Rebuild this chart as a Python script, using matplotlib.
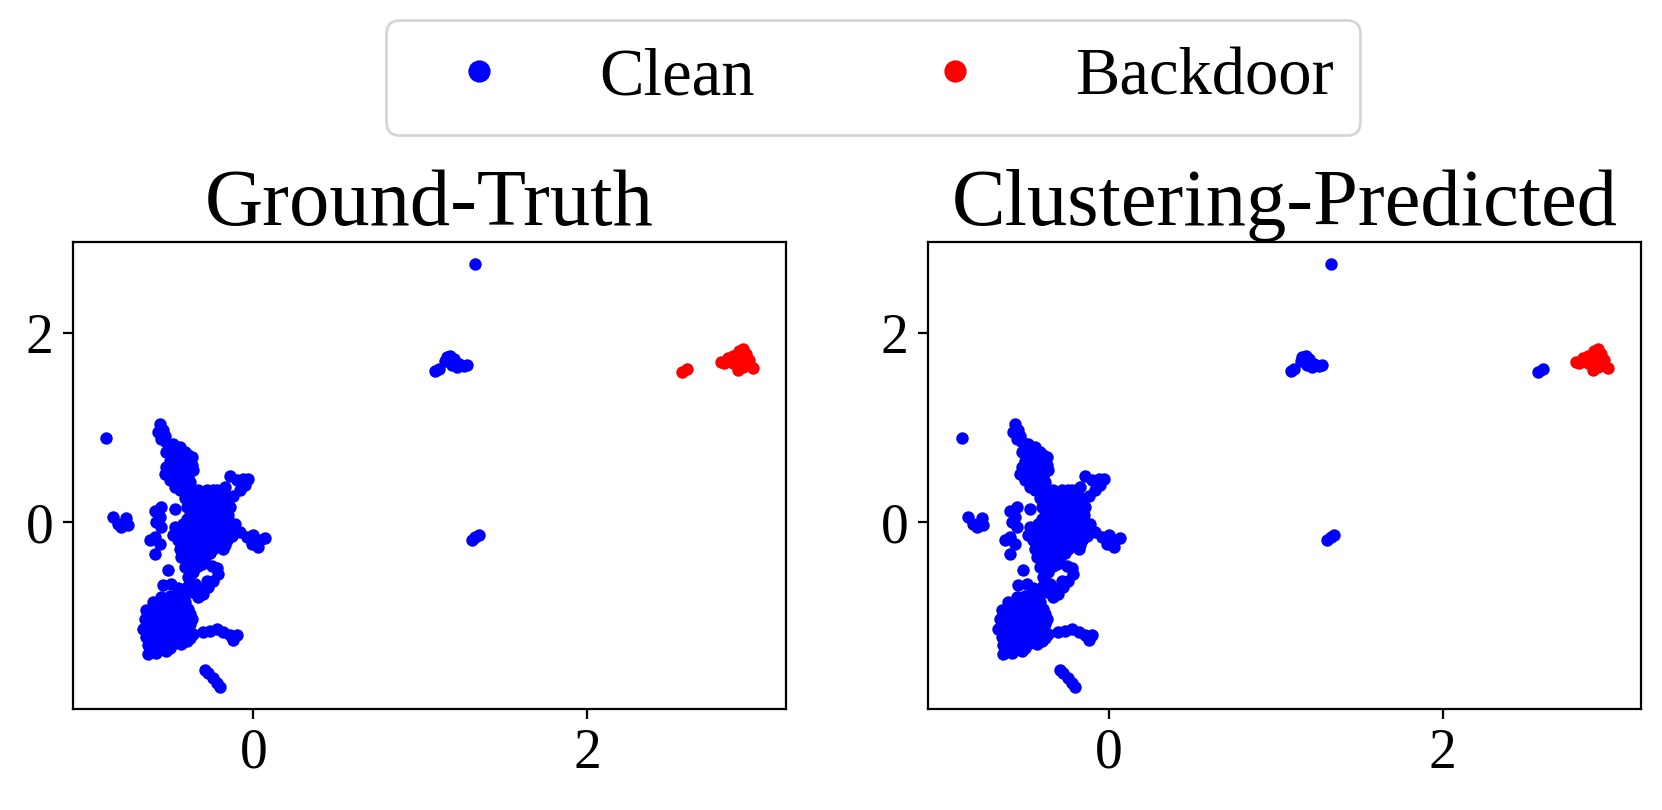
import matplotlib
matplotlib.use("Agg")
import matplotlib.pyplot as plt
from matplotlib.lines import Line2D

plt.rcParams['font.family'] = ['Liberation Serif', 'DejaVu Serif']

# main clean mass (x, y)
blob_points = [
    # upper arm
    (-0.56, 1.04), (-0.57, 0.95), (-0.55, 0.88), (-0.52, 0.85), (-0.50, 0.79),
    (-0.46, 0.76), (-0.41, 0.74), (-0.37, 0.69), (-0.37, 0.60), (-0.36, 0.55),
    (-0.39, 0.48), (-0.42, 0.55), (-0.46, 0.62), (-0.50, 0.65), (-0.52, 0.58),
    (-0.53, 0.51), (-0.50, 0.44), (-0.47, 0.37), (-0.44, 0.34), (-0.41, 0.41),
    (-0.38, 0.42), (-0.46, 0.51), (-0.43, 0.44), (-0.48, 0.71), (-0.52, 0.74),
    (-0.41, 0.65),
    (-0.54, 0.97), (-0.53, 0.91), (-0.48, 0.82), (-0.44, 0.79), (-0.39, 0.71),
    (-0.44, 0.69), (-0.48, 0.60), (-0.43, 0.60), (-0.39, 0.57), (-0.49, 0.55),
    (-0.45, 0.48), (-0.41, 0.49), (-0.40, 0.36),
    # centre
    (-0.38, 0.34), (-0.33, 0.34), (-0.28, 0.34), (-0.24, 0.34),
    (-0.40, 0.30), (-0.35, 0.30), (-0.30, 0.30), (-0.25, 0.30), (-0.20, 0.30),
    (-0.41, 0.25), (-0.36, 0.25), (-0.31, 0.25), (-0.26, 0.25), (-0.21, 0.25), (-0.17, 0.25),
    (-0.38, 0.21), (-0.33, 0.21), (-0.28, 0.21), (-0.23, 0.21), (-0.18, 0.21),
    (-0.40, 0.16), (-0.35, 0.16), (-0.30, 0.16), (-0.25, 0.16), (-0.20, 0.16), (-0.16, 0.16),
    (-0.37, 0.12), (-0.32, 0.12), (-0.27, 0.12), (-0.22, 0.12), (-0.17, 0.12),
    (-0.38, 0.07), (-0.34, 0.07), (-0.29, 0.07), (-0.24, 0.07), (-0.19, 0.07), (-0.15, 0.07),
    (-0.40, 0.03), (-0.35, 0.03), (-0.31, 0.03), (-0.26, 0.03), (-0.21, 0.03), (-0.16, 0.03),
    (-0.42, -0.02), (-0.37, -0.02), (-0.32, -0.02), (-0.27, -0.02), (-0.22, -0.02),
    (-0.17, -0.02), (-0.13, -0.02),
    (-0.44, -0.06), (-0.39, -0.06), (-0.34, -0.06), (-0.29, -0.06), (-0.24, -0.06),
    (-0.19, -0.06), (-0.14, -0.06),
    (-0.44, -0.11), (-0.39, -0.11), (-0.34, -0.11), (-0.29, -0.11), (-0.24, -0.11),
    (-0.19, -0.11), (-0.15, -0.11), (-0.11, -0.11),
    (-0.42, -0.15), (-0.37, -0.15), (-0.32, -0.15), (-0.27, -0.15), (-0.22, -0.15),
    (-0.17, -0.15), (-0.13, -0.15),
    (-0.45, -0.19), (-0.40, -0.19), (-0.35, -0.19), (-0.30, -0.19), (-0.25, -0.19),
    (-0.20, -0.19), (-0.16, -0.19),
    (-0.42, -0.24), (-0.37, -0.24), (-0.32, -0.24), (-0.27, -0.24), (-0.22, -0.24), (-0.17, -0.24),
    (-0.44, -0.28), (-0.39, -0.28), (-0.34, -0.28), (-0.29, -0.28), (-0.24, -0.28), (-0.18, -0.28),
    (-0.41, -0.33), (-0.36, -0.33), (-0.31, -0.33), (-0.26, -0.33),
    (-0.43, -0.37), (-0.38, -0.37), (-0.33, -0.37), (-0.29, -0.37),
    (-0.36, -0.44), (-0.31, -0.44),
    # right arm
    (-0.22, 0.34), (-0.17, 0.37), (-0.14, 0.49), (-0.10, 0.44), (-0.06, 0.46),
    (-0.03, 0.46), (-0.05, 0.39), (-0.08, 0.34), (-0.12, 0.28), (-0.16, 0.23),
    (-0.14, 0.16), (-0.19, 0.32),
    # right spur
    (-0.11, -0.02), (-0.08, -0.11), (-0.04, -0.16), (0.00, -0.14), (0.04, -0.19),
    (0.07, -0.17), (0.03, -0.26), (-0.01, -0.23),
    # left lobes
    (-0.59, 0.12), (-0.55, 0.16), (-0.58, 0.00), (-0.55, -0.05), (-0.56, 0.05),
    (-0.47, 0.14), (-0.47, -0.05), (-0.48, -0.14),
    (-0.62, -0.19), (-0.59, -0.16), (-0.56, -0.23), (-0.59, -0.34),
    # stem
    (-0.41, -0.48), (-0.39, -0.58), (-0.40, -0.69), (-0.42, -0.79), (-0.36, -0.53),
    (-0.35, -0.65), (-0.38, -0.52), (-0.38, -0.63), (-0.37, -0.74), (-0.33, -0.47),
    (-0.25, -0.46), (-0.22, -0.49), (-0.21, -0.55), (-0.24, -0.62), (-0.27, -0.69),
    (-0.30, -0.76), (-0.33, -0.79), (-0.28, -0.62), (-0.31, -0.71),
    # lower mass
    (-0.54, -0.67), (-0.49, -0.65), (-0.45, -0.70),
    (-0.60, -0.85), (-0.55, -0.79), (-0.50, -0.78), (-0.45, -0.79), (-0.41, -0.85),
    (-0.57, -0.88), (-0.52, -0.86), (-0.47, -0.85),
    (-0.39, -0.92), (-0.64, -0.93), (-0.59, -0.93), (-0.54, -0.92), (-0.49, -0.90),
    (-0.44, -0.93), (-0.38, -0.97),
    (-0.62, -0.98), (-0.57, -0.97), (-0.52, -0.97), (-0.47, -0.97),
    (-0.42, -1.02), (-0.65, -1.02), (-0.60, -1.02), (-0.55, -1.02),
    (-0.50, -1.02), (-0.46, -1.04), (-0.37, -1.02),
    (-0.63, -1.08), (-0.58, -1.08), (-0.53, -1.08), (-0.48, -1.08), (-0.43, -1.08), (-0.38, -1.08),
    (-0.66, -1.13), (-0.61, -1.13), (-0.56, -1.13), (-0.51, -1.13), (-0.46, -1.13), (-0.41, -1.13),
    (-0.62, -1.18), (-0.57, -1.18), (-0.52, -1.18), (-0.47, -1.18), (-0.41, -1.18), (-0.36, -1.18),
    (-0.64, -1.22), (-0.59, -1.22), (-0.54, -1.22), (-0.49, -1.22), (-0.44, -1.22), (-0.38, -1.23),
    (-0.61, -1.26), (-0.56, -1.26), (-0.51, -1.26), (-0.46, -1.26), (-0.40, -1.26),
    (-0.63, -1.30), (-0.58, -1.32), (-0.53, -1.30), (-0.48, -1.29), (-0.43, -1.29),
    (-0.60, -1.35), (-0.55, -1.34), (-0.50, -1.33),
    (-0.63, -1.39), (-0.58, -1.38), (-0.52, -1.36),
]

# smaller clean groups away from the main mass
outlier_points = [
    (-0.88, 0.89),
    (-0.84, 0.05), (-0.81, -0.02), (-0.79, -0.05), (-0.76, 0.04), (-0.75, -0.03),
    (-0.51, -0.51),
    (-0.30, -1.16), (-0.26, -1.15), (-0.22, -1.13), (-0.18, -1.16), (-0.14, -1.19),
    (-0.10, -1.19), (-0.12, -1.25),
    (-0.29, -1.56), (-0.27, -1.60), (-0.24, -1.65), (-0.22, -1.70), (-0.20, -1.74),
    (1.33, 2.73),
    (1.09, 1.60), (1.11, 1.62), (1.15, 1.70), (1.16, 1.74), (1.18, 1.76), (1.20, 1.72),
    (1.19, 1.66), (1.22, 1.64), (1.23, 1.67), (1.26, 1.65), (1.28, 1.66),
    (1.31, -0.19), (1.33, -0.16), (1.35, -0.14),
]

# backdoor samples; the small group is labelled clean by the clustering
backdoor_main = [
    (2.80, 1.69), (2.84, 1.73), (2.87, 1.75), (2.91, 1.81), (2.93, 1.83), (2.95, 1.78),
    (2.90, 1.66), (2.90, 1.61), (2.97, 1.71), (2.99, 1.63), (2.87, 1.68), (2.94, 1.71),
    (2.92, 1.75), (2.88, 1.71), (2.82, 1.68), (2.96, 1.66), (2.93, 1.64),
]
backdoor_missed = [(2.57, 1.59), (2.60, 1.62)]

titles = ['Ground-Truth', 'Clustering-Predicted']
xticks = [0, 2]
yticks = [0, 2]

clean_gt = blob_points + outlier_points
backdoor_gt = backdoor_main + backdoor_missed
clean_pred = clean_gt + backdoor_missed
backdoor_pred = backdoor_main

fig = plt.figure(figsize=(8.31, 4.05), dpi=200)
ax1 = fig.add_axes([0.0439, 0.1253, 0.4290, 0.5763])
ax2 = fig.add_axes([0.5585, 0.1253, 0.4290, 0.5763])

for ax, title, clean, bd in [(ax1, titles[0], clean_gt, backdoor_gt),
                             (ax2, titles[1], clean_pred, backdoor_pred)]:
    ax.scatter([p[0] for p in clean], [p[1] for p in clean], s=20, c='blue', linewidths=0)
    ax.scatter([p[0] for p in bd], [p[1] for p in bd], s=20, c='red', linewidths=0)
    ax.set_xlim(-1.080, 3.190)
    ax.set_ylim(-1.971, 2.963)
    ax.set_xticks(xticks)
    ax.set_yticks(yticks)
    ax.tick_params(labelsize=20)
    ax.set_title(title, fontsize=29)

handles = [Line2D([], [], marker='o', ls='', color='blue', markersize=7),
           Line2D([], [], marker='o', ls='', color='red', markersize=7)]
fig.legend(handles, ['Clean', 'Backdoor'], ncol=2, loc='center',
           bbox_to_anchor=(0.5253, 0.9043), fontsize=24)

fig.savefig('out.png')
